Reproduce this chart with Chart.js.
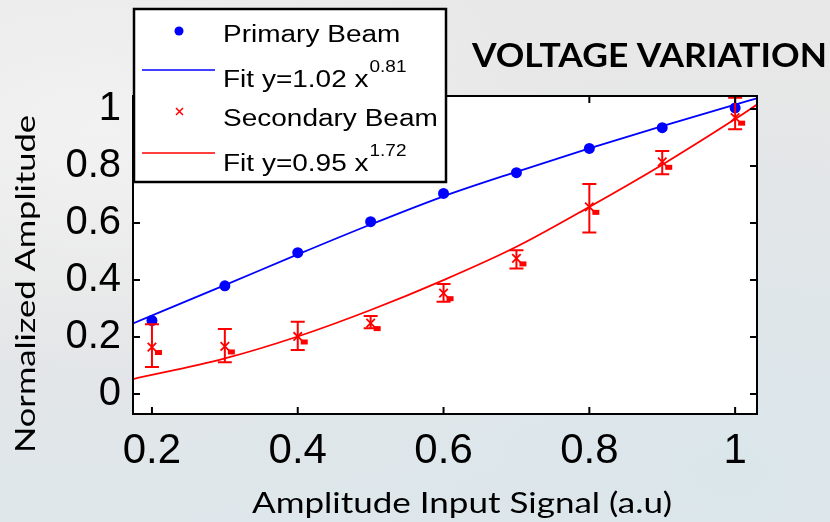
<!DOCTYPE html>
<html>
<head>
<meta charset="utf-8">
<script src="https://cdn.jsdelivr.net/npm/chart.js@4.4.1/dist/chart.umd.min.js"></script>
<style>
  html, body { margin: 0; padding: 0; }
  body {
    width: 830px; height: 522px; overflow: hidden;
    background:
      radial-gradient(ellipse at 12% 25%, #f2f2f2 0%, rgba(242,242,242,0) 45%),
      radial-gradient(ellipse at 88% 90%, #dbe6eb 0%, rgba(219,230,235,0) 60%),
      linear-gradient(180deg, #e8e8e8 0%, #e4e5e6 55%, #dfe7eb 100%);
  }
  #wrap { position: relative; width: 830px; height: 522px; }
</style>
</head>
<body>
<div id="wrap"><canvas id="voltageChart" width="830" height="522"></canvas></div>
<script>
// values
const inputAmp = [0.2, 0.3, 0.4, 0.5, 0.6, 0.7, 0.8, 0.9, 1.0];
const primaryBeam = [0.258, 0.380, 0.496, 0.605, 0.704, 0.777, 0.862, 0.935, 1.004];
const secondaryBeam = [0.165, 0.167, 0.202, 0.249, 0.354, 0.476, 0.657, 0.815, 0.970];
const secondaryLow = [0.095, 0.112, 0.155, 0.231, 0.324, 0.441, 0.567, 0.771, 0.929];
const secondaryHigh = [0.245, 0.228, 0.254, 0.274, 0.386, 0.505, 0.737, 0.853, 1.040];

// fit curves
const fitX = [0.174, 0.3, 0.4, 0.5, 0.6, 0.7, 0.8, 0.9, 1.0, 1.03];
const primaryFit = [0.248, 0.382, 0.490, 0.595, 0.694, 0.780, 0.862, 0.940, 1.016, 1.038];
const secondaryFit = [0.0525, 0.125, 0.202, 0.295, 0.400, 0.517, 0.657, 0.805, 0.965, 1.016];

const xTicks = [0.2, 0.4, 0.6, 0.8, 1];
const yTicks = [0, 0.2, 0.4, 0.6, 0.8, 1];

const BLUE = '#0000ff';
const RED = '#ff0000';
const TICK_FONT = 'Liberation Sans, Arial, sans-serif';
const LABEL_FONT = 'Lato, Carlito, sans-serif';

const toPoints = (xs, ys) => xs.map((x, i) => ({ x: x, y: ys[i] }));

// text squeezed/stretched to the width seen in the reference
function stretchedText(ctx, txt, font, width) {
    ctx.font = font;
    const w = ctx.measureText(txt).width;
    ctx.save();
    ctx.scale(width / w, 1);
    ctx.fillText(txt, 0, 0);
    ctx.restore();
}

// white plot area, error bars, box with inward ticks, legend and titles
const decor = {
    id: 'decor',
    beforeDraw(chart) {
        const { ctx, chartArea: a } = chart;
        ctx.save();
        ctx.fillStyle = '#fff';
        ctx.fillRect(a.left, a.top, a.right - a.left, a.bottom - a.top);
        ctx.restore();
    },
    afterDatasetsDraw(chart) {
        const { ctx, scales: { x, y } } = chart;
        ctx.save();
        ctx.strokeStyle = RED;
        ctx.fillStyle = RED;
        ctx.lineWidth = 2;
        inputAmp.forEach((v, i) => {
            const px = x.getPixelForValue(v);
            const lo = y.getPixelForValue(secondaryLow[i]);
            const hi = y.getPixelForValue(secondaryHigh[i]);
            ctx.beginPath();
            ctx.moveTo(px, lo); ctx.lineTo(px, hi);
            ctx.moveTo(px - 7, lo); ctx.lineTo(px + 7, lo);
            ctx.moveTo(px - 7, hi); ctx.lineTo(px + 7, hi);
            ctx.stroke();
            // little filled square next to each cross
            const py = y.getPixelForValue(secondaryBeam[i]);
            ctx.fillRect(px + 3, py + 3, 7, 5);
        });
        ctx.restore();
    },
    afterDraw(chart) {
        const { ctx, chartArea: a, scales: { x, y } } = chart;
        ctx.save();

        // frame
        ctx.strokeStyle = '#000';
        ctx.lineWidth = 2;
        ctx.strokeRect(a.left, a.top, a.right - a.left, a.bottom - a.top);

        // inward ticks on all four sides
        ctx.beginPath();
        yTicks.forEach(v => {
            const py = y.getPixelForValue(v);
            ctx.moveTo(a.left, py); ctx.lineTo(a.left + 7, py);
            ctx.moveTo(a.right, py); ctx.lineTo(a.right - 7, py);
        });
        xTicks.forEach(v => {
            const px = x.getPixelForValue(v);
            ctx.moveTo(px, a.bottom); ctx.lineTo(px, a.bottom - 7);
            ctx.moveTo(px, a.top); ctx.lineTo(px, a.top + 7);
        });
        ctx.stroke();

        // legend box
        ctx.fillStyle = '#fff';
        ctx.fillRect(134, 9, 312, 173);
        ctx.lineWidth = 2.5;
        ctx.strokeRect(134, 9, 312, 173);

        ctx.fillStyle = BLUE;
        ctx.beginPath(); ctx.arc(179, 31, 4.5, 0, Math.PI * 2); ctx.fill();

        ctx.strokeStyle = BLUE; ctx.lineWidth = 1.5;
        ctx.beginPath(); ctx.moveTo(142, 70); ctx.lineTo(215, 70); ctx.stroke();

        ctx.strokeStyle = RED; ctx.lineWidth = 1.5;
        ctx.beginPath();
        ctx.moveTo(176, 108); ctx.lineTo(183, 115);
        ctx.moveTo(183, 108); ctx.lineTo(176, 115);
        ctx.stroke();

        ctx.beginPath(); ctx.moveTo(142, 153); ctx.lineTo(215, 153); ctx.stroke();

        const squished = (txt, px, py, size) => {
            ctx.save();
            ctx.translate(px, py);
            ctx.scale(1, 0.88);
            ctx.font = size + 'px ' + TICK_FONT;
            ctx.fillText(txt, 0, 0);
            const w = ctx.measureText(txt).width;
            ctx.restore();
            return w;
        };
        ctx.fillStyle = '#000';
        ctx.textBaseline = 'alphabetic';
        ctx.textAlign = 'left';
        squished('Primary Beam', 223, 42, 28);
        let w = squished('Fit y=1.02 x', 223, 87, 28);
        squished('0.81', 224 + w, 72, 19);
        squished('Secondary Beam', 223, 126, 28);
        w = squished('Fit y=0.95 x', 223, 171, 28);
        squished('1.72', 224 + w, 156, 19);

        // titles
        ctx.save();
        ctx.translate(472, 67);
        stretchedText(ctx, 'VOLTAGE VARIATION', 'bold 33px ' + LABEL_FONT, 355);
        ctx.restore();

        ctx.save();
        ctx.translate(252, 513);
        stretchedText(ctx, 'Amplitude Input Signal (a.u)', '29px ' + LABEL_FONT, 420);
        ctx.restore();

        ctx.translate(35, 453);
        ctx.rotate(-Math.PI / 2);
        stretchedText(ctx, 'Normalized Amplitude', '27px ' + LABEL_FONT, 338);

        ctx.restore();
    }
};

new Chart(document.getElementById('voltageChart'), {
    type: 'scatter',
    data: {
        datasets: [
            {
                label: 'Primary Beam',
                data: toPoints(inputAmp, primaryBeam),
                pointStyle: 'circle',
                pointRadius: 5.5,
                backgroundColor: BLUE,
                borderColor: BLUE,
                borderWidth: 0,
                showLine: false
            },
            {
                label: 'Fit y=1.02 x^0.81',
                data: toPoints(fitX, primaryFit),
                showLine: true,
                pointRadius: 0,
                borderColor: BLUE,
                borderWidth: 1.8,
                cubicInterpolationMode: 'monotone'
            },
            {
                label: 'Secondary Beam',
                data: toPoints(inputAmp, secondaryBeam),
                pointStyle: 'crossRot',
                pointRadius: 6,
                borderColor: RED,
                borderWidth: 1.8,
                showLine: false
            },
            {
                label: 'Fit y=0.95 x^1.72',
                data: toPoints(fitX, secondaryFit),
                showLine: true,
                pointRadius: 0,
                borderColor: RED,
                borderWidth: 1.8,
                cubicInterpolationMode: 'monotone'
            }
        ]
    },
    options: {
        responsive: false,
        animation: false,
        layout: { padding: { top: 96, right: 73, left: 0, bottom: 0 } },
        plugins: { legend: { display: false }, tooltip: { enabled: false } },
        scales: {
            x: {
                type: 'linear',
                min: 0.174,
                max: 1.03,
                afterFit: s => { s.height = 108; },
                afterBuildTicks: s => { s.ticks = xTicks.map(v => ({ value: v })); },
                grid: { display: false, drawTicks: false },
                border: { display: false },
                ticks: {
                    padding: 12,
                    color: '#000',
                    font: { family: TICK_FONT, size: 42 },
                    callback: v => String(Number(v.toFixed(1)))
                }
            },
            y: {
                type: 'linear',
                min: -0.07,
                max: 1.046,
                afterFit: s => { s.width = 133; },
                afterBuildTicks: s => { s.ticks = yTicks.map(v => ({ value: v })); },
                grid: { display: false, drawTicks: false },
                border: { display: false },
                ticks: {
                    padding: 12,
                    color: '#000',
                    font: { family: TICK_FONT, size: 40 },
                    callback: v => String(Number(v.toFixed(1)))
                }
            }
        }
    },
    plugins: [decor]
});
</script>
</body>
</html>
